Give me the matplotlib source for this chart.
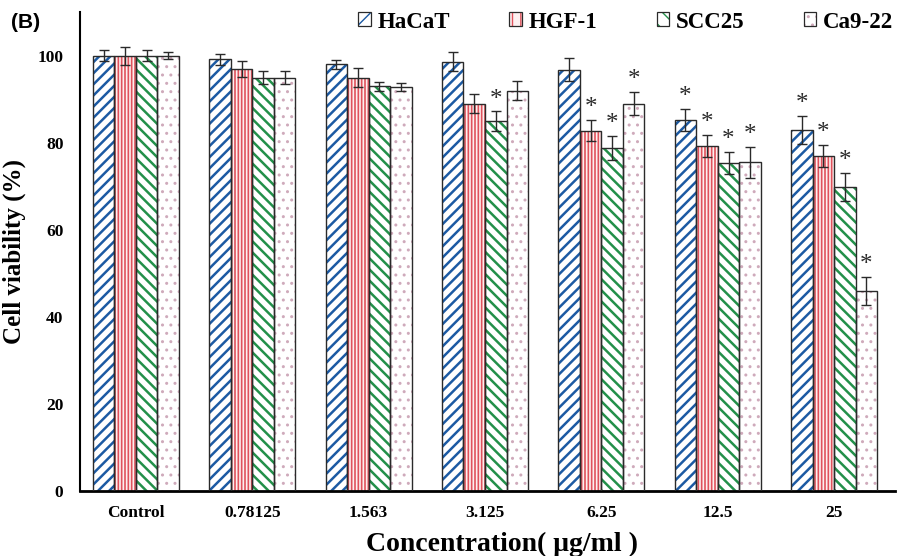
import matplotlib
matplotlib.use("Agg")
import matplotlib.pyplot as plt
import numpy as np
from matplotlib.patches import Patch

categories = ["Control", "0.78125", "1.563", "3.125", "6.25", "12.5", "25"]
series_names = ["HaCaT", "HGF-1", "SCC25", "Ca9-22"]
hacat = [100, 99.2, 98.0, 98.6, 96.8, 85.2, 83.0]
hgf1 = [100, 97.0, 95.0, 89.0, 82.8, 79.3, 77.0]
scc25 = [100, 95.0, 93.0, 85.0, 78.8, 75.3, 69.8]
ca922 = [100, 95.0, 92.8, 92.0, 89.0, 75.5, 46.0]
hacat_err = [1.3, 1.3, 1.0, 2.2, 2.6, 2.5, 3.2]
hgf1_err = [2.1, 1.8, 2.2, 2.2, 2.4, 2.5, 2.5]
scc25_err = [1.3, 1.4, 1.0, 2.2, 2.7, 2.5, 3.2]
ca922_err = [0.8, 1.4, 1.0, 2.2, 2.7, 3.5, 3.2]
hacat_sig = [0, 0, 0, 0, 0, 1, 1]
hgf1_sig = [0, 0, 0, 0, 1, 1, 1]
scc25_sig = [0, 0, 0, 1, 1, 1, 1]
ca922_sig = [0, 0, 0, 0, 1, 1, 1]

values = [hacat, hgf1, scc25, ca922]
errors = [hacat_err, hgf1_err, scc25_err, ca922_err]
sigs = [hacat_sig, hgf1_sig, scc25_sig, ca922_sig]
hatches = ["///", "|||||", "\\\\\\", ".."]
hcolors = ["#1c5aa3", "#e0525c", "#23904a", "#cfaabb"]
hlw = [1.8, 1.2, 1.8, 1.0]
faces = ["white", "#fdf0f0", "white", "white"]

serif = ["Liberation Serif", "DejaVu Serif"]


def hatched_bar(ax, pos, vals, i, **kw):
    with plt.rc_context({"hatch.linewidth": hlw[i]}):
        bars = ax.bar(pos, vals, w, color=faces[i], edgecolor=hcolors[i],
                      hatch=hatches[i], linewidth=0, zorder=2, **kw)
        for b in bars:
            if hasattr(b, "set_hatch_linewidth"):
                b.set_hatch_linewidth(hlw[i])
    return bars


fig = plt.figure(figsize=(9, 5.56), dpi=100)
ax = fig.add_axes([0.089, 0.117, 0.905, 0.861])

x = np.arange(len(categories))
w = 0.185
for i in range(4):
    pos = x + (i - 1.5) * w
    hatched_bar(ax, pos, values[i], i)
    ax.bar(pos, values[i], w, fill=False, edgecolor="#2a2a2a", linewidth=1.0, zorder=3)
    ax.errorbar(pos, values[i], yerr=errors[i], fmt="none", ecolor="#2a2a2a",
                elinewidth=1.0, capsize=3.5, capthick=1.0, zorder=4)
    for p, v, e, s in zip(pos, values[i], errors[i], sigs[i]):
        if s:
            ax.text(p, v + e + 0.2, "*", ha="center", va="bottom", fontsize=18,
                    family=serif, color="#2a2a2a")

ax.set_xlim(-0.48, 6.52)
ax.set_ylim(0, 110)
ax.set_yticks([0, 20, 40, 60, 80, 100])
ax.set_xticks(x)
ax.set_xticklabels(categories)
for lab in ax.get_xticklabels() + ax.get_yticklabels():
    lab.set_fontfamily(serif)
    lab.set_fontweight("bold")
    lab.set_fontsize(12.5)
ax.tick_params(axis="x", length=0, pad=10)
ax.tick_params(axis="y", length=0, pad=12)
for s in ["top", "right"]:
    ax.spines[s].set_visible(False)
ax.spines["left"].set_linewidth(1.5)
ax.spines["bottom"].set_linewidth(2.0)
ax.set_ylabel("Cell viability (%)", fontsize=18, fontweight="bold", family=serif, labelpad=8)
ax.set_xlabel("Concentration( μg/ml )", fontsize=20, fontweight="bold", family=serif, labelpad=4)
ax.xaxis.set_label_coords(0.518, -0.085)

handles = []
for i in range(4):
    with plt.rc_context({"hatch.linewidth": 1.2}):
        p1 = Patch(facecolor=faces[i], edgecolor=hcolors[i], hatch=hatches[i][:1] * 2, linewidth=0)
    p2 = Patch(fill=False, edgecolor="#2a2a2a", linewidth=0.9)
    handles.append((p1, p2))
leg = fig.legend(handles, series_names, loc="center right",
                 bbox_to_anchor=(893 / 900, 1 - 22 / 556), ncol=4,
                 frameon=False, prop={"family": serif, "weight": "bold", "size": 16.5},
                 handlelength=0.55, handleheight=0.55, columnspacing=2.6,
                 handletextpad=0.28, borderpad=0, borderaxespad=0)

fig.text(11 / 900, 1 - 22 / 556, "(B)", fontsize=15, fontweight="bold", va="center",
         family=["Liberation Sans", "DejaVu Sans"])

fig.savefig("out.png", dpi=100)
